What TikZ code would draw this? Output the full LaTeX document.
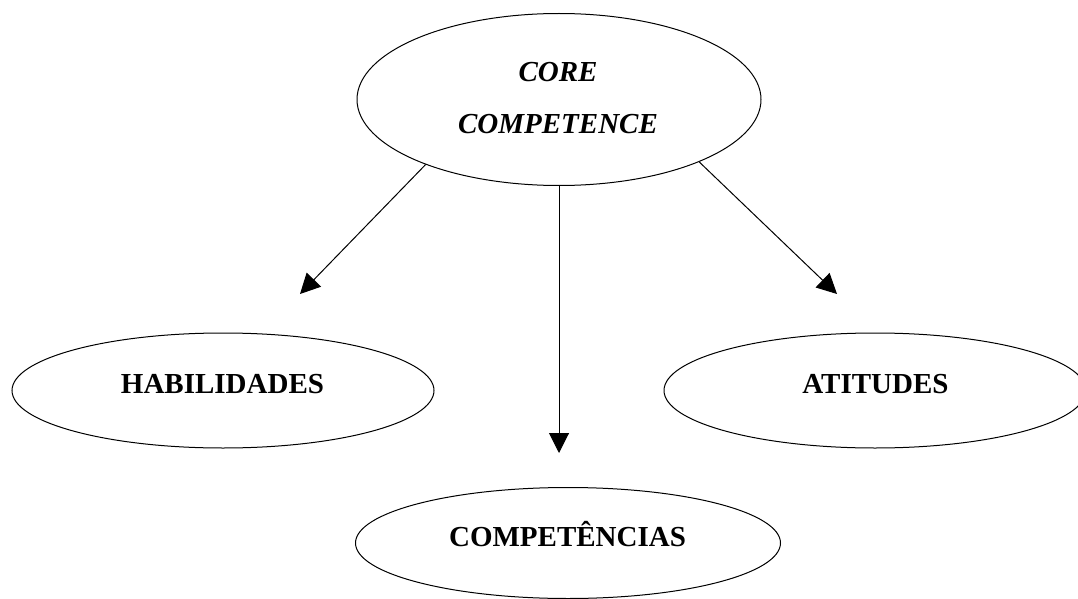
\documentclass[tikz,border=0pt]{standalone}
\usepackage{fontspec}
\setmainfont{Liberation Serif}
\usetikzlibrary{shapes.geometric,arrows.meta}
\begin{document}
\begin{tikzpicture}[x=1pt,y=-1pt,
  oval/.style={draw,ellipse,line width=1pt,inner sep=0pt},
  lbl/.style={anchor=base,font=\fontsize{29}{29}\selectfont\bfseries,inner sep=0pt},
  arr/.style={-{Triangle[length=20pt,width=20pt]},line width=1pt}]
\useasboundingbox (0,0) rectangle (1078,599);
% ellipses
\node[oval,minimum width=404pt,minimum height=172pt] (core) at (559,99.5) {};
\node[oval,minimum width=422pt,minimum height=115pt] (hab) at (223,390.5) {};
\node[oval,minimum width=422pt,minimum height=115pt] (ati) at (875,390.5) {};
\node[oval,minimum width=425pt,minimum height=111pt] (comp) at (568,543) {};
% texts
\node[lbl,font=\fontsize{29}{29}\selectfont\bfseries\itshape] (coreA) at (558,81.7) {CORE};
\node[lbl,font=\fontsize{29}{29}\selectfont\bfseries\itshape] (coreB) at (558,133.3) {COMPETENCE};
\node[lbl] (habt) at (222.5,393) {HABILIDADES};
\node[lbl] (atit) at (875.5,393) {ATITUDES};
\node[lbl] (compt) at (567.5,546) {COMPETÊNCIAS};
% arrow ends
\coordinate (lend) at (300,294);
\coordinate (mend) at (559,453);
\coordinate (rend) at (837,294);
\draw[arr] (core.206.7) -- (lend);
\draw[arr] (core.south) -- (mend);
\draw[arr] (core.336.9) -- (rend);
\end{tikzpicture}
\end{document}
